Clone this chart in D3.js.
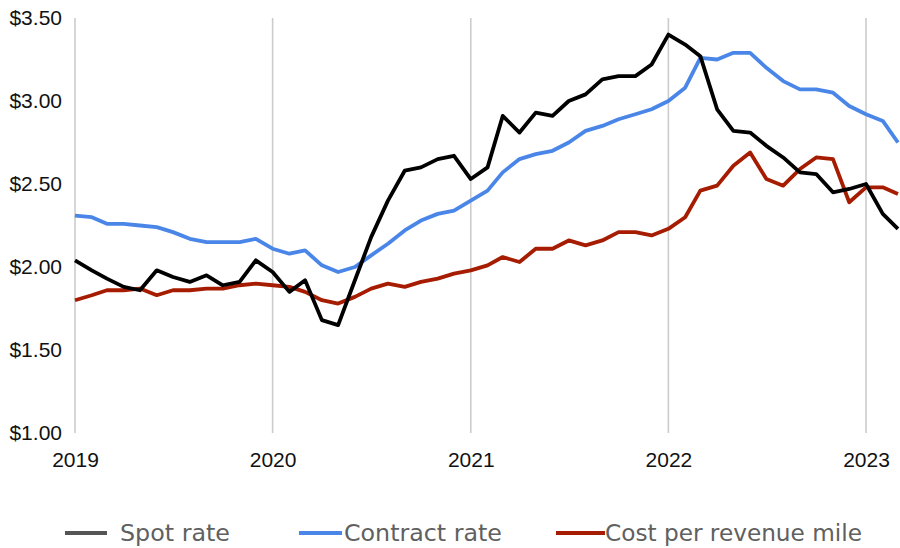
<!DOCTYPE html>
<html>
<head>
<meta charset="utf-8">
<script src="https://cdn.jsdelivr.net/npm/d3@7/dist/d3.min.js"></script>
<style>
  html, body { margin: 0; padding: 0; background: #fff; }
  svg { display: block; }
</style>
</head>
<body>
<script>
// ---- Data ----
const months = [
  "2019-01","2019-02","2019-03","2019-04","2019-05","2019-06","2019-07","2019-08","2019-09","2019-10","2019-11","2019-12",
  "2020-01","2020-02","2020-03","2020-04","2020-05","2020-06","2020-07","2020-08","2020-09","2020-10","2020-11","2020-12",
  "2021-01","2021-02","2021-03","2021-04","2021-05","2021-06","2021-07","2021-08","2021-09","2021-10","2021-11","2021-12",
  "2022-01","2022-02","2022-03","2022-04","2022-05","2022-06","2022-07","2022-08","2022-09","2022-10","2022-11","2022-12",
  "2023-01","2023-02","2023-03"
];
const spotRate = [
  2.04,1.98,1.93,1.88,1.86,1.98,1.94,1.91,1.95,1.89,1.91,2.04,
  1.97,1.85,1.92,1.68,1.65,1.92,2.18,2.40,2.58,2.60,2.65,2.67,
  2.53,2.60,2.91,2.81,2.93,2.91,3.00,3.04,3.13,3.15,3.15,3.22,
  3.40,3.34,3.27,2.95,2.82,2.81,2.73,2.66,2.57,2.56,2.45,2.47,
  2.50,2.32,2.23
];
const contractRate = [
  2.31,2.30,2.26,2.26,2.25,2.24,2.21,2.17,2.15,2.15,2.15,2.17,
  2.11,2.08,2.10,2.01,1.97,2.00,2.07,2.14,2.22,2.28,2.32,2.34,
  2.40,2.46,2.57,2.65,2.68,2.70,2.75,2.82,2.85,2.89,2.92,2.95,
  3.00,3.08,3.26,3.25,3.29,3.29,3.20,3.12,3.07,3.07,3.05,2.97,
  2.92,2.88,2.75
];
const costPerMile = [
  1.80,1.83,1.86,1.86,1.87,1.83,1.86,1.86,1.87,1.87,1.89,1.90,
  1.89,1.88,1.85,1.80,1.78,1.82,1.87,1.90,1.88,1.91,1.93,1.96,
  1.98,2.01,2.06,2.03,2.11,2.11,2.16,2.13,2.16,2.21,2.21,2.19,
  2.23,2.30,2.46,2.49,2.61,2.69,2.53,2.49,2.59,2.66,2.65,2.39,
  2.48,2.48,2.44
];
const yTicks = [1.0, 1.5, 2.0, 2.5, 3.0, 3.5];
const xTickYears = ["2019","2020","2021","2022","2023"];
const seriesNames = ["Spot rate", "Contract rate", "Cost per revenue mile"];
const seriesColors = ["#000000", "#4a86e8", "#a61c00"];

// ---- Layout ----
const W = 900, H = 548;
const parseMonth = d3.timeParse("%Y-%m");
const parseYear = d3.timeParse("%Y");
const dates = months.map(parseMonth);

const x = d3.scaleTime()
  .domain([parseYear("2019"), parseYear("2023")])
  .range([75, 866]);
const y = d3.scaleLinear().domain([1, 3.5]).range([433, 18]);

const svg = d3.select("body").append("svg")
  .attr("width", W).attr("height", H)
  .style("font-family", "'Liberation Sans', Arial, sans-serif");

svg.append("rect").attr("width", W).attr("height", H).attr("fill", "#fff");

// vertical gridlines (years)
svg.append("g").selectAll("line")
  .data(xTickYears)
  .join("line")
  .attr("x1", d => x(parseYear(d))).attr("x2", d => x(parseYear(d)))
  .attr("y1", y(3.5)).attr("y2", y(1.0))
  .attr("stroke", "#cccccc").attr("stroke-width", 1.6);

// y axis labels
const yAxis = d3.axisLeft(y).tickValues(yTicks)
  .tickFormat(d => "$" + d3.format(".2f")(d)).tickSize(0).tickPadding(13);
const gy = svg.append("g").attr("transform", "translate(75,0)").call(yAxis);
gy.select(".domain").remove();
gy.selectAll("text").attr("font-size", 21).attr("fill", "#111")
  .attr("font-family", "'Liberation Sans', Arial, sans-serif");

// x axis labels
const xAxis = d3.axisBottom(x).tickValues(xTickYears.map(parseYear))
  .tickFormat(d3.timeFormat("%Y")).tickSize(0).tickPadding(19);
const gx = svg.append("g").attr("transform", "translate(0,433)").call(xAxis);
gx.select(".domain").remove();
gx.selectAll("text").attr("font-size", 21).attr("fill", "#111")
  .attr("font-family", "'Liberation Sans', Arial, sans-serif");

// lines
svg.append("clipPath").attr("id", "plotclip")
  .append("rect").attr("x", 0).attr("y", 0).attr("width", 900).attr("height", 460);

const line = d3.line().x((d, i) => x(dates[i])).y(d => y(d));
const seriesData = [spotRate, contractRate, costPerMile];
const drawOrder = [1, 2, 0];
const gLines = svg.append("g").attr("clip-path", "url(#plotclip)");
drawOrder.forEach(k => {
  gLines.append("path")
    .datum(seriesData[k])
    .attr("d", line)
    .attr("fill", "none")
    .attr("stroke", seriesColors[k])
    .attr("stroke-width", 3.8)
    .attr("stroke-linejoin", "round")
    .attr("stroke-linecap", "butt");
});

// legend
const legendItems = [
  { line: [65, 107], text: 120, width: 110 },
  { line: [299, 342], text: 344, width: 158 },
  { line: [556, 605], text: 605, width: 257 }
];
const legendY = 533;
const lg = svg.append("g");
legendItems.forEach((it, k) => {
  lg.append("line")
    .attr("x1", it.line[0]).attr("x2", it.line[1])
    .attr("y1", legendY).attr("y2", legendY)
    .attr("stroke", k === 0 ? "#555555" : seriesColors[k])
    .attr("stroke-width", 4);
  lg.append("text")
    .attr("x", it.text).attr("y", 541)
    .attr("font-family", "'DejaVu Sans', sans-serif")
    .attr("font-size", 22.5)
    .attr("fill", "#606060")
    .attr("textLength", it.width)
    .attr("lengthAdjust", "spacingAndGlyphs")
    .text(seriesNames[k]);
});
</script>
</body>
</html>
